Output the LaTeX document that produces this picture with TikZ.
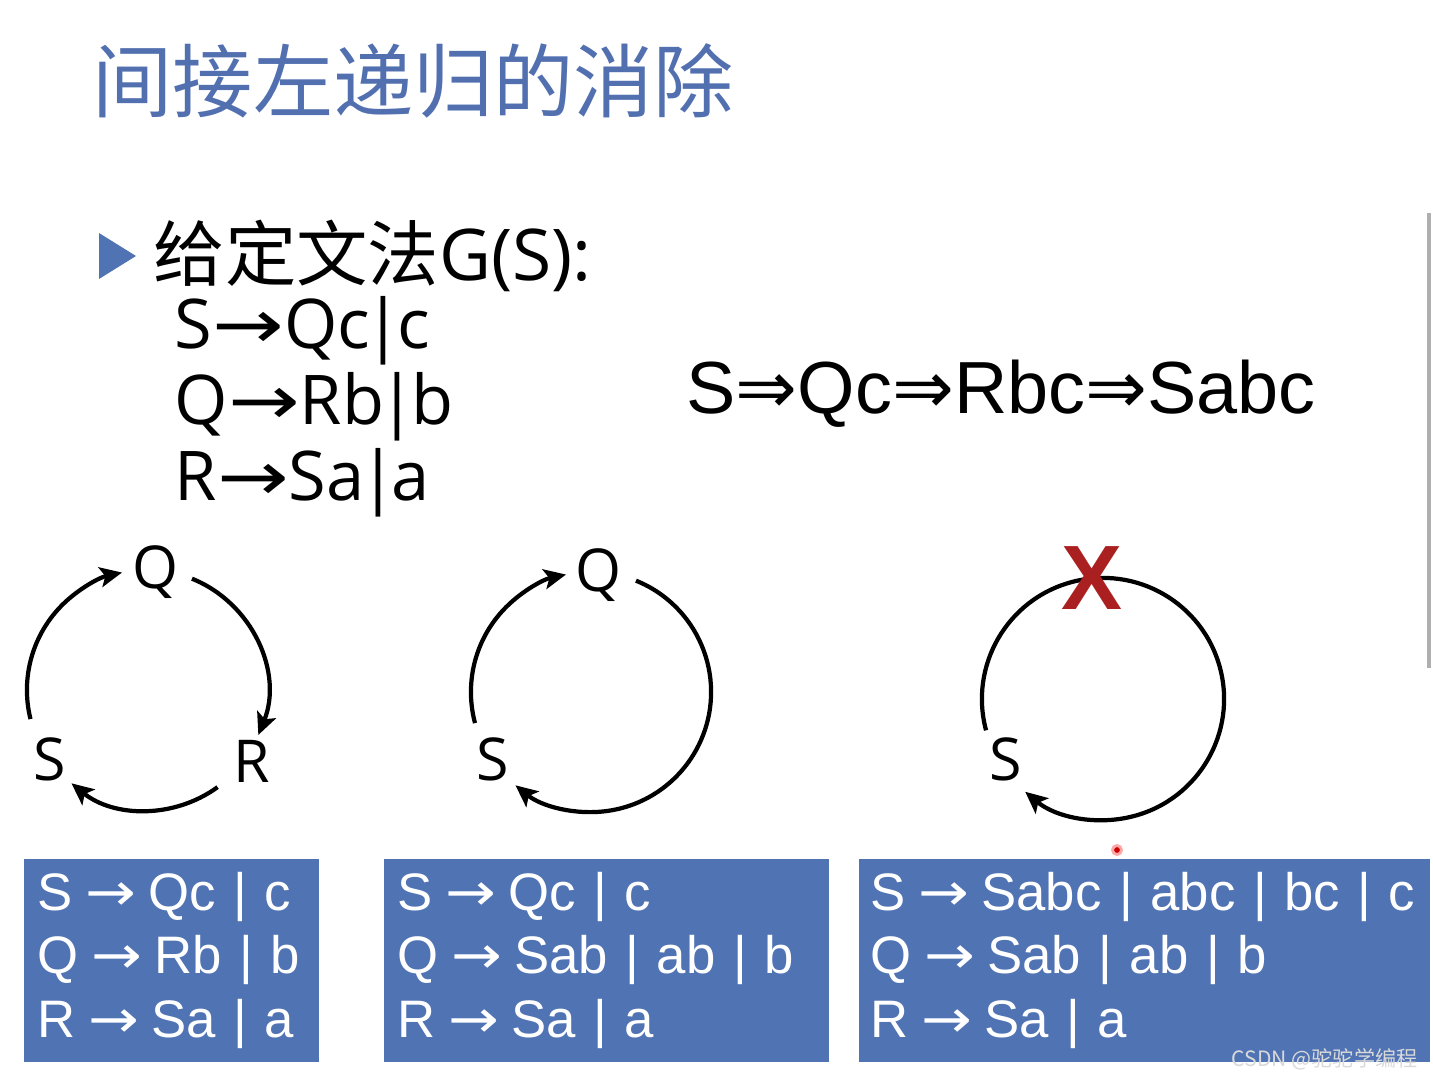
\documentclass[tikz,border=0pt]{standalone}
\usepackage{fontspec}
\setmainfont{Open Sans}
\newfontfamily\cjk{Noto Sans CJK SC}
\newfontfamily\arial{Liberation Sans}
\newfontfamily\symf{DejaVu Sans}
\usetikzlibrary{arrows.meta,positioning}
\definecolor{titleblue}{RGB}{82,112,176}
\definecolor{boxblue}{RGB}{80,115,180}
\definecolor{xred}{RGB}{170,32,32}
\definecolor{edgegray}{RGB}{175,175,175}
\newcommand{\gramarr}{{\symf\scalebox{1.25}[1]{→}}}
\newcommand{\grambar}{\kern-0.08em|\kern-0.08em}
\newcommand{\boxarr}{{\symf\kern-0.1em\scalebox{1.15}[1]{→}\kern-0.1em}}

\begin{document}
\begin{tikzpicture}[x=0.01cm,y=0.01cm]
	\tikzstyle{rule} = [anchor=base west, inner sep=0pt, font=\fontsize{19.5}{23}\selectfont];
	\tikzstyle{lbl} = [anchor=base, inner sep=0pt, font=\fontsize{16.8}{20}\selectfont];
	\tikzstyle{cyc} = [line width=1.2pt, -{Stealth[length=0.22cm,width=0.2cm,inset=0.05cm]}];
	\tikzstyle{gbox} = [fill=boxblue, text=white, anchor=north west, minimum height=2.03cm, inner xsep=0.14cm, align=left, font=\arial\fontsize{15}{18.1}\selectfont];

	\useasboundingbox (0,0) rectangle (1433,-1079);

	\node[anchor=base west, inner sep=0pt, text=titleblue, font=\cjk\fontsize{22.8}{26}\selectfont] (title) at (92,-112) {间接左递归的消除};

	\fill[boxblue] (99,-233) -- (136,-256) -- (99,-279) -- cycle;
	\node[rule, font=\fontsize{20.3}{24}\selectfont] (given) at (153,-281) {{\cjk 给定文法}G(S):};
	\node[rule] (g1) at (174,-348) {S\gramarr Qc\grambar c};
	\node[rule] (g2) at ([yshift=-0.76cm]g1.base west) {Q\gramarr Rb\grambar b};
	\node[rule] (g3) at ([yshift=-0.76cm]g2.base west) {R\gramarr Sa\grambar a};

	\node[anchor=base west, inner sep=0pt, font=\arial\fontsize{21}{25}\selectfont] (deriv) at (686,-413) {S{\symf ⇒}Qc{\symf ⇒}Rbc{\symf ⇒}Sabc};

	\coordinate (c1) at (147,-690);
	\node[lbl] (q1) at (156,-588) {Q};
	\node[lbl] (r1) at (252,-782) {R};
	\node[lbl] (s1) at (50,-780) {S};
	\path (c1) ++(194:1.2cm) coordinate (sq1);
	\path (c1) ++(68:1.2cm) coordinate (qr1);
	\path (c1) ++(-54:1.2cm) coordinate (rs1);
	\draw[cyc] (sq1) arc[start angle=194, end angle=102, radius=1.2cm];
	\draw[cyc] (qr1) arc[start angle=68, end angle=-22, radius=1.2cm];
	\draw[cyc] (rs1) arc[start angle=-54, end angle=-129, radius=1.2cm];

	\coordinate (c2) at (591,-692);
	\node[lbl] (q2) at (598,-591) {Q};
	\node[lbl] (s2) at (493,-780) {S};
	\path (c2) ++(195:1.2cm) coordinate (sq2);
	\path (c2) ++(68:1.2cm) coordinate (qs2);
	\draw[cyc] (sq2) arc[start angle=195, end angle=102, radius=1.2cm];
	\draw[cyc] (qs2) arc[start angle=68, end angle=-129, radius=1.2cm];

	\coordinate (c3) at (1103,-699);
	\node[lbl] (s3) at (1006,-780) {S};
	\path (c3) ++(195:1.21cm) coordinate (ss3);
	\draw[cyc] (ss3) arc[start angle=195, end angle=-130, radius=1.21cm];
	\node[inner sep=0pt, text=xred, font=\arial\bfseries\fontsize{26}{30}\selectfont] (cut) at (1092,-578) {X};

	\node[gbox, text width=2.67cm] (box1) at (23,-858) {\mbox{S \boxarr{} Qc | c}\\\mbox{Q \boxarr{} Rb | b}\\\mbox{R \boxarr{} Sa | a}};
	\node[gbox, text width=4.17cm] (box2) at (383,-858) {\mbox{S \boxarr{} Qc | c}\\\mbox{Q \boxarr{} Sab | ab | b}\\\mbox{R \boxarr{} Sa | a}};
	\node[gbox, text width=5.47cm, inner xsep=0.12cm] (box3) at (858,-858) {\mbox{S \boxarr{} Sabc | abc | bc | c}\\\mbox{Q \boxarr{} Sab | ab | b}\\\mbox{R \boxarr{} Sa | a}};

	\node[circle, fill=red!80!black, draw=red!35, line width=0.8pt, inner sep=0pt, minimum size=0.09cm] (ptr) at (1117,-850) {};
	\node[anchor=base east, inner sep=0pt, text=white!85!black, font=\cjk\fontsize{6}{7}\selectfont] (mark) at (1418,-1066) {CSDN @驼驼学编程};
	\draw[edgegray, line width=1.1pt] (1429,-213) -- (1429,-668);
\end{tikzpicture}
\end{document}
